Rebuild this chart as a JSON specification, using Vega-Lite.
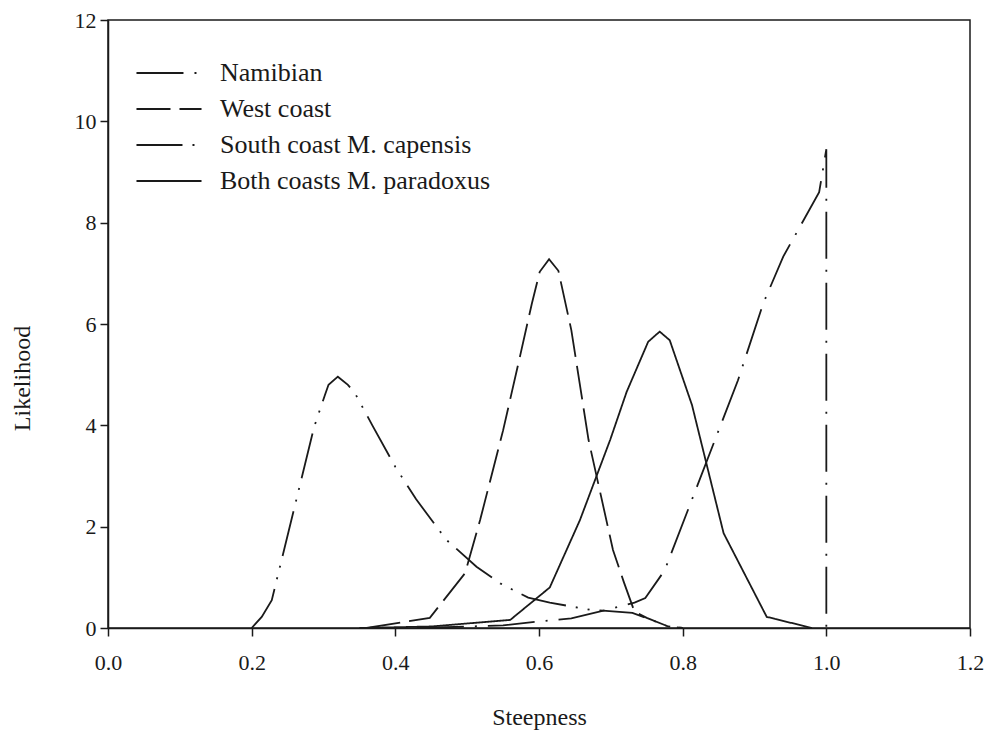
{
  "$schema": "https://vega.github.io/schema/vega-lite/v6.json",
  "width": 862,
  "height": 608,
  "autosize": "none",
  "padding": {"left": 108, "top": 20, "right": 20, "bottom": 110},
  "background": "white",
  "config": {
    "view": {"stroke": "#1a1a1a", "strokeWidth": 1.5},
    "font": "Liberation Serif",
    "axis": {
      "grid": false,
      "labelFlush": false,
      "domainColor": "#1a1a1a",
      "domainWidth": 1.5,
      "tickColor": "#1a1a1a",
      "tickWidth": 1.5,
      "tickSize": 8,
      "labelFont": "Liberation Serif",
      "labelFontSize": 22,
      "labelColor": "#1a1a1a",
      "titleFont": "Liberation Serif",
      "titleFontSize": 24,
      "titleFontWeight": "normal",
      "titleColor": "#1a1a1a"
    },
    "legend": {
      "labelFont": "Liberation Serif",
      "labelFontSize": 26,
      "labelColor": "#1a1a1a",
      "labelLimit": 0
    }
  },
  "data": {
    "values": [
      {"series": "Namibian", "i": 1, "x": 0.43, "y": 0},
      {"series": "Namibian", "i": 2, "x": 0.55, "y": 0.05},
      {"series": "Namibian", "i": 3, "x": 0.594, "y": 0.12},
      {"series": "Namibian", "i": 4, "x": 0.645, "y": 0.19},
      {"series": "Namibian", "i": 5, "x": 0.703, "y": 0.39},
      {"series": "Namibian", "i": 6, "x": 0.733, "y": 0.5},
      {"series": "Namibian", "i": 7, "x": 0.748, "y": 0.59},
      {"series": "Namibian", "i": 8, "x": 0.775, "y": 1.14},
      {"series": "Namibian", "i": 9, "x": 0.877, "y": 4.89},
      {"series": "Namibian", "i": 10, "x": 0.912, "y": 6.4},
      {"series": "Namibian", "i": 11, "x": 0.94, "y": 7.33},
      {"series": "Namibian", "i": 12, "x": 0.99, "y": 8.6},
      {"series": "Namibian", "i": 13, "x": 1.0, "y": 9.45},
      {"series": "Namibian", "i": 14, "x": 1.0, "y": 0},

      {"series": "West coast", "i": 1, "x": 0.36, "y": 0},
      {"series": "West coast", "i": 2, "x": 0.448, "y": 0.2},
      {"series": "West coast", "i": 3, "x": 0.497, "y": 1.08},
      {"series": "West coast", "i": 4, "x": 0.518, "y": 2.13},
      {"series": "West coast", "i": 5, "x": 0.55, "y": 3.9},
      {"series": "West coast", "i": 6, "x": 0.574, "y": 5.39},
      {"series": "West coast", "i": 7, "x": 0.59, "y": 6.4},
      {"series": "West coast", "i": 8, "x": 0.601, "y": 7.03},
      {"series": "West coast", "i": 9, "x": 0.614, "y": 7.28},
      {"series": "West coast", "i": 10, "x": 0.627, "y": 7.05},
      {"series": "West coast", "i": 11, "x": 0.645, "y": 5.88},
      {"series": "West coast", "i": 12, "x": 0.669, "y": 3.71},
      {"series": "West coast", "i": 13, "x": 0.703, "y": 1.54},
      {"series": "West coast", "i": 14, "x": 0.718, "y": 0.91},
      {"series": "West coast", "i": 15, "x": 0.733, "y": 0.32},
      {"series": "West coast", "i": 16, "x": 0.75, "y": 0.2},
      {"series": "West coast", "i": 17, "x": 0.78, "y": 0.03},
      {"series": "West coast", "i": 18, "x": 0.8, "y": 0},

      {"series": "South coast M. capensis", "i": 1, "x": 0.2, "y": 0},
      {"series": "South coast M. capensis", "i": 2, "x": 0.214, "y": 0.22},
      {"series": "South coast M. capensis", "i": 3, "x": 0.228, "y": 0.55},
      {"series": "South coast M. capensis", "i": 4, "x": 0.287, "y": 3.97},
      {"series": "South coast M. capensis", "i": 5, "x": 0.302, "y": 4.6},
      {"series": "South coast M. capensis", "i": 6, "x": 0.307, "y": 4.8},
      {"series": "South coast M. capensis", "i": 7, "x": 0.32, "y": 4.96},
      {"series": "South coast M. capensis", "i": 8, "x": 0.334, "y": 4.8},
      {"series": "South coast M. capensis", "i": 9, "x": 0.344, "y": 4.63},
      {"series": "South coast M. capensis", "i": 10, "x": 0.368, "y": 4.0},
      {"series": "South coast M. capensis", "i": 11, "x": 0.4, "y": 3.18},
      {"series": "South coast M. capensis", "i": 12, "x": 0.429, "y": 2.54},
      {"series": "South coast M. capensis", "i": 13, "x": 0.471, "y": 1.74},
      {"series": "South coast M. capensis", "i": 14, "x": 0.513, "y": 1.21},
      {"series": "South coast M. capensis", "i": 15, "x": 0.546, "y": 0.88},
      {"series": "South coast M. capensis", "i": 16, "x": 0.585, "y": 0.6},
      {"series": "South coast M. capensis", "i": 17, "x": 0.615, "y": 0.5},
      {"series": "South coast M. capensis", "i": 18, "x": 0.671, "y": 0.36},
      {"series": "South coast M. capensis", "i": 19, "x": 0.73, "y": 0.3},
      {"series": "South coast M. capensis", "i": 20, "x": 0.745, "y": 0.22},
      {"series": "South coast M. capensis", "i": 21, "x": 0.78, "y": 0.03},
      {"series": "South coast M. capensis", "i": 22, "x": 0.8, "y": 0},

      {"series": "Both coasts M. paradoxus", "i": 1, "x": 0.35, "y": 0},
      {"series": "Both coasts M. paradoxus", "i": 2, "x": 0.45, "y": 0.03},
      {"series": "Both coasts M. paradoxus", "i": 3, "x": 0.56, "y": 0.16},
      {"series": "Both coasts M. paradoxus", "i": 4, "x": 0.615, "y": 0.8},
      {"series": "Both coasts M. paradoxus", "i": 5, "x": 0.657, "y": 2.13},
      {"series": "Both coasts M. paradoxus", "i": 6, "x": 0.699, "y": 3.71},
      {"series": "Both coasts M. paradoxus", "i": 7, "x": 0.722, "y": 4.66},
      {"series": "Both coasts M. paradoxus", "i": 8, "x": 0.752, "y": 5.65},
      {"series": "Both coasts M. paradoxus", "i": 9, "x": 0.768, "y": 5.85},
      {"series": "Both coasts M. paradoxus", "i": 10, "x": 0.782, "y": 5.68},
      {"series": "Both coasts M. paradoxus", "i": 11, "x": 0.813, "y": 4.4},
      {"series": "Both coasts M. paradoxus", "i": 12, "x": 0.857, "y": 1.87},
      {"series": "Both coasts M. paradoxus", "i": 13, "x": 0.917, "y": 0.22},
      {"series": "Both coasts M. paradoxus", "i": 14, "x": 0.98, "y": 0}
    ]
  },
  "mark": {"type": "line", "color": "#1a1a1a", "strokeWidth": 1.8, "clip": true},
  "encoding": {
    "x": {
      "field": "x",
      "type": "quantitative",
      "title": "Steepness",
      "scale": {"domain": [0, 1.2], "nice": false, "zero": false},
      "axis": {"values": [0, 0.2, 0.4, 0.6, 0.8, 1.0, 1.2], "format": ".1f", "labelPadding": 16, "titlePadding": 32}
    },
    "y": {
      "field": "y",
      "type": "quantitative",
      "title": "Likelihood",
      "scale": {"domain": [0, 12], "nice": false},
      "axis": {"values": [0, 2, 4, 6, 8, 10, 12], "format": "d", "labelPadding": 4, "titlePadding": 40, "titleY": 358}
    },
    "order": {"field": "i", "type": "quantitative"},
    "strokeDash": {
      "field": "series",
      "type": "nominal",
      "scale": {
        "domain": ["Namibian", "West coast", "South coast M. capensis", "Both coasts M. paradoxus"],
        "range": [[47, 11, 2, 11], [34, 9], [46, 10, 2, 10, 2, 10], [1, 0]]
      },
      "legend": {
        "title": null,
        "orient": "none",
        "legendX": 48,
        "legendY": 40,
        "padding": 0,
        "symbolType": "M-3,0H3",
        "symbolSize": 470,
        "symbolStrokeWidth": 1.8,
        "symbolStrokeColor": "#1a1a1a",
        "labelOffset": 38,
        "rowPadding": 10
      }
    }
  }
}
